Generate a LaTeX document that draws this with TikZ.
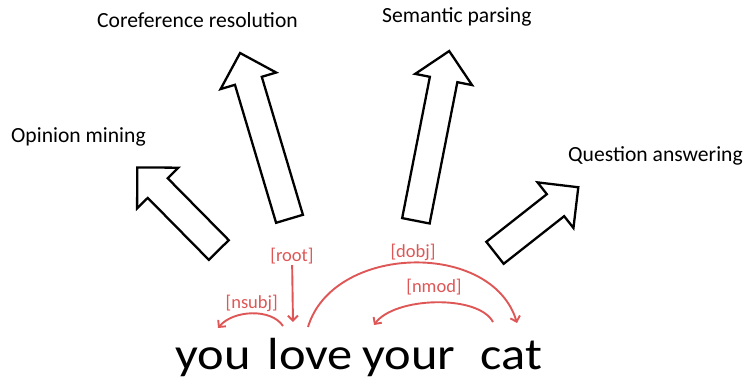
\documentclass[tikz,border=0pt]{standalone}
\usepackage{fontspec}
\setmainfont{Carlito}
\newfontfamily\wordfont[FakeStretch=1.12]{Carlito}
\usepackage{tikz}
\usetikzlibrary{arrows.meta}
\definecolor{deprel}{RGB}{222,86,86}
% hollow block arrow: base point, angle, length
\newcommand{\taskarrow}[3]{%
  \draw[taskbox, shift={(#1)}, rotate=#2]
    (0,-14) -- ({#3-29},-14) -- ({#3-29},-29) -- (#3,0)
    -- ({#3-29},29) -- ({#3-29},14) -- (0,14) -- cycle;
}

\begin{document}
\begin{tikzpicture}[x=1pt, y=-1pt,
  task/.style={anchor=base west, inner sep=0pt, font=\fontsize{21.6}{26}\selectfont},
  word/.style={anchor=base west, inner sep=0pt, font=\wordfont\fontsize{45}{54}\selectfont},
  rel/.style={text=deprel, inner sep=1pt, font=\fontsize{18.5}{22}\selectfont},
  dep/.style={draw=deprel, line width=1.9pt, -{Straight Barb[length=5pt,width=10pt]}},
  taskbox/.style={draw=black, line width=2.3pt, fill=white}]
\useasboundingbox (0,0) rectangle (745,382);

% tasks
\node[task] (opinion) at (11,143) {Opinion mining};
\node[task] (coref) at (97,28) {Coreference resolution};
\node[task] (semantic) at (382,23) {Semantic parsing};
\node[task] (qa) at (568,162) {Question answering};

\coordinate (b1) at (218.8,250);
\coordinate (b2) at (289.5,218.8);
\coordinate (b3) at (415.9,220.8);
\coordinate (b4) at (495,252.8);
\taskarrow{b1}{134.6}{116}
\taskarrow{b2}{106.6}{173}
\taskarrow{b3}{78.9}{173}
\taskarrow{b4}{38.2}{106}

% sentence
\node[word] (you) at (175,370) {you};
\node[word] (love) at (267.5,370) {love};
\node[word] (your) at (362,370) {your};
\node[word] (cat) at (480.5,370) {cat};

\coordinate (you-top) at (218,328);
\coordinate (love-l) at (283,326);
\coordinate (love-top) at (293,322);
\coordinate (love-r) at (308,327);
\coordinate (your-top) at (374,325);
\coordinate (cat-l) at (493,322);
\coordinate (cat-top) at (517,323);

% dependency relations
\node[rel] (root) at (292,256) {[root]};
\node[rel] (nsubj) at (251.7,303) {[nsubj]};
\node[rel] (dobj) at (413,252.5) {[dobj]};
\node[rel] (nmod) at (434,287.5) {[nmod]};

\draw[dep] (root) -- (love-top);
\draw[dep] (love-l) .. controls +(-12,-18) and +(15,-18) .. (you-top);
\draw[dep] (love-r) .. controls +(25,-83) and +(-25,-83) .. (cat-top);
\draw[dep] (cat-l) .. controls +(-15,-28) and +(20,-28) .. (your-top);
\end{tikzpicture}
\end{document}
